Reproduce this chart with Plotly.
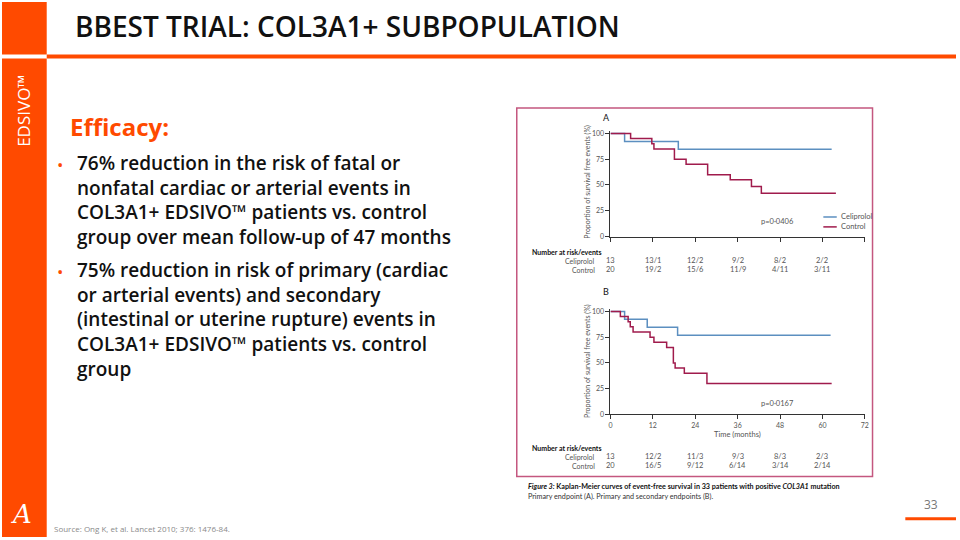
import plotly.graph_objects as go

# ---------------- data ----------------
months_A_celiprolol = [0, 4.0, 19.2, 62.6]
surv_A_celiprolol = [100, 92.3, 84.6, 84.6]
months_A_control = [0, 5.7, 11.7, 12.3, 18.1, 21.4, 27.5, 33.9, 39.9, 42.7, 63.8]
surv_A_control = [100, 95, 90, 85, 75, 70, 60, 55, 48.5, 42, 42]

months_B_celiprolol = [0, 4.0, 10.4, 19.0, 62.3]
surv_B_celiprolol = [100, 92.3, 84.6, 76.9, 76.9]
months_B_control = [0, 2.8, 5.0, 5.6, 6.4, 11.2, 12.3, 15.9, 17.8, 18.3, 20.9, 27.3, 62.6]
surv_B_control = [100, 95, 90, 85, 80, 75, 70, 65, 50, 45, 40, 30, 30]

risk_months = [0, 12, 24, 36, 48, 60]
risk_A_celiprolol = ["13", "13/1", "12/2", "9/2", "8/2", "2/2"]
risk_A_control = ["20", "19/2", "15/6", "11/9", "4/11", "3/11"]
risk_B_celiprolol = ["13", "12/2", "11/3", "9/3", "8/3", "2/3"]
risk_B_control = ["20", "16/5", "9/12", "6/14", "3/14", "2/14"]

x_ticks = [0, 12, 24, 36, 48, 60, 72]
y_ticks = [0, 25, 50, 75, 100]

title_text = "BBEST TRIAL: COL3A1+ SUBPOPULATION"
bullet1 = ["76% reduction in the risk of fatal or",
           "nonfatal cardiac or arterial events in",
           "COL3A1+ EDSIVO™ patients vs. control",
           "group over mean follow-up of 47 months"]
bullet2 = ["75% reduction in risk of primary (cardiac",
           "or arterial events) and secondary",
           "(intestinal or uterine rupture) events in",
           "COL3A1+ EDSIVO™ patients vs. control",
           "group"]

# ---------------- style ----------------
W, H = 960, 540
ORANGE = "#FF4A00"
BLUE = "#5C8FC0"
RED = "#A01B4C"
AXC = "#333333"
GRAY = "#555555"
SLIDE_FONT = "Open Sans"
CH_FONT = "Lato"


def px(x):
    return x / W


def py(y):
    return 1 - y / H


fig = go.Figure()

# curves
for xa, ya, mc, sc, mr, sr in [
    ("x", "y", months_A_celiprolol, surv_A_celiprolol, months_A_control, surv_A_control),
    ("x2", "y2", months_B_celiprolol, surv_B_celiprolol, months_B_control, surv_B_control),
]:
    fig.add_trace(go.Scatter(x=mc, y=sc, mode="lines", line=dict(color=BLUE, width=1.5, shape="hv"),
                             xaxis=xa, yaxis=ya, showlegend=False, hoverinfo="skip"))
    fig.add_trace(go.Scatter(x=mr, y=sr, mode="lines", line=dict(color=RED, width=1.5, shape="hv"),
                             xaxis=xa, yaxis=ya, showlegend=False, hoverinfo="skip"))

x0p, x1p = 612.3, 868.3
axis_common = dict(showgrid=False, zeroline=False, showline=True, linecolor=AXC, linewidth=1,
                   ticks="outside", ticklen=4, tickcolor=AXC, tickwidth=1,
                   tickfont=dict(family=CH_FONT, size=7, color=GRAY))

fig.update_layout(
    xaxis=dict(domain=[px(x0p), px(x1p)], range=[0, 72], tickvals=x_ticks, showticklabels=False,
               anchor="y", **axis_common),
    yaxis=dict(domain=[py(236.7), py(130.6)], range=[0, 102], tickvals=y_ticks, anchor="x",
               **axis_common),
    xaxis2=dict(domain=[px(x0p), px(x1p)], range=[0, 72], tickvals=x_ticks, anchor="y2",
                **axis_common),
    yaxis2=dict(domain=[py(416.3), py(310.2)], range=[0, 102], tickvals=y_ticks, anchor="x2",
                **axis_common),
)

shapes = []
ann = []

# slide decorations
shapes.append(dict(type="rect", xref="paper", yref="paper", x0=0, x1=px(45), y0=py(53), y1=1,
                   fillcolor=ORANGE, line_width=0, layer="below"))
shapes.append(dict(type="rect", xref="paper", yref="paper", x0=0, x1=px(45), y0=0, y1=py(57),
                   fillcolor=ORANGE, line_width=0, layer="below"))
shapes.append(dict(type="rect", xref="paper", yref="paper", x0=px(45), x1=1, y0=py(57), y1=py(53),
                   fillcolor=ORANGE, line_width=0, layer="below"))
shapes.append(dict(type="rect", xref="paper", yref="paper", x0=px(909), x1=1, y0=py(523), y1=py(520),
                   fillcolor=ORANGE, line_width=0, layer="below"))
# chart frame
shapes.append(dict(type="rect", xref="paper", yref="paper", x0=px(518), x1=px(876), y0=py(479), y1=py(107),
                   line=dict(color="#C4577F", width=1.5), layer="below"))

ann.append(dict(text=title_text, x=px(71), y=py(24), xanchor="left", yanchor="middle",
                font=dict(family=SLIDE_FONT, size=28, color="#111111", weight=600)))
ann.append(dict(text="EDSIVO™", x=px(22), y=py(110), xanchor="center", yanchor="middle", textangle=-90,
                font=dict(family=SLIDE_FONT, size=17, color="white")))
ann.append(dict(text="Efficacy:", x=px(66), y=py(126), xanchor="left", yanchor="middle",
                font=dict(family=SLIDE_FONT, size=24, color=ORANGE, weight=700)))

BSIZE = 19
LH = BSIZE * 1.3


def add_bullet(lines, y_first):
    ann.append(dict(text="•", x=px(53), y=py(y_first), xanchor="left", yanchor="middle",
                    font=dict(family=SLIDE_FONT, size=17, color=ORANGE)))
    ann.append(dict(text="<br>".join(lines), x=px(73), y=py(y_first - LH / 2 - 4), xanchor="left",
                    yanchor="top", align="left",
                    font=dict(family=SLIDE_FONT, size=BSIZE, color="#111111", weight=600)))


add_bullet(bullet1, 164)
add_bullet(bullet2, 272)

ann.append(dict(text="Source: Ong K, et al. Lancet 2010; 376: 1476-84.", x=px(50), y=py(531),
                xanchor="left", yanchor="middle", font=dict(family=SLIDE_FONT, size=8, color="#8A8A8A")))
ann.append(dict(text="33", x=px(944), y=py(507), xanchor="right", yanchor="middle",
                font=dict(family=SLIDE_FONT, size=12, color="#777777")))
ann.append(dict(text="<i>A</i>", x=px(20), y=py(517), xanchor="center", yanchor="middle",
                font=dict(family="DejaVu Serif", size=26, color="white")))

# chart annotations
CH = dict(family=CH_FONT, color=GRAY)
ann.append(dict(text="A", x=px(603), y=py(117), xanchor="left", yanchor="middle",
                font=dict(family=CH_FONT, size=9, color="#111111")))
ann.append(dict(text="B", x=px(603), y=py(292), xanchor="left", yanchor="middle",
                font=dict(family=CH_FONT, size=9, color="#111111")))
for yc in [181, 362]:
    ann.append(dict(text="Proportion of survival free events (%)", x=px(589), y=py(yc), textangle=-90,
                    xanchor="center", yanchor="middle", font=dict(size=7, **CH)))
ann.append(dict(text="Time (months)", x=px(740), y=py(437), xanchor="center", yanchor="middle",
                font=dict(size=7.5, **CH)))
ann.append(dict(text="p=0·0406", x=px(780), y=py(222), xanchor="center", yanchor="middle",
                font=dict(size=7.5, **CH)))
ann.append(dict(text="p=0·0167", x=px(780), y=py(405), xanchor="center", yanchor="middle",
                font=dict(size=7.5, **CH)))

# legend (panel A)
for yl, col, lab in [(217, BLUE, "Celiprolol"), (227, RED, "Control")]:
    shapes.append(dict(type="line", xref="paper", yref="paper", x0=px(826.5), x1=px(840), y0=py(yl), y1=py(yl),
                       line=dict(color=col, width=1.5)))
    ann.append(dict(text=lab, x=px(842), y=py(yl), xanchor="left", yanchor="middle",
                    font=dict(size=7.5, **CH)))


# risk tables
def risk_table(xref, y_head, cel, ctl):
    ann.append(dict(text="<b>Number at risk/events</b>", x=px(531), y=py(y_head), xanchor="left",
                    yanchor="middle", font=dict(family=CH_FONT, size=7, color="#111111")))
    for dy, lab, vals in [(9, "Celiprolol", cel), (18, "Control", ctl)]:
        ann.append(dict(text=lab, x=px(599), y=py(y_head + dy), xanchor="right", yanchor="middle",
                        font=dict(size=7, **CH)))
        for m, v in zip(risk_months, vals):
            ann.append(dict(text=v, x=m, xref=xref, y=py(y_head + dy), xanchor="center", yanchor="middle",
                            font=dict(size=7.5, **CH)))


risk_table("x", 252, risk_A_celiprolol, risk_A_control)
risk_table("x2", 450, risk_B_celiprolol, risk_B_control)

ann.append(dict(text="<b><i>Figure 3:</i> Kaplan-Meier curves of event-free survival in 33 patients with positive <i>COL3A1</i> mutation</b>",
                x=px(527), y=py(489), xanchor="left", yanchor="middle", font=dict(family=CH_FONT, size=7.2, color="#111111")))
ann.append(dict(text="Primary endpoint (A). Primary and secondary endpoints (B).",
                x=px(527), y=py(499), xanchor="left", yanchor="middle", font=dict(family=CH_FONT, size=7.2, color="#333333")))

for a in ann:
    a.setdefault("xref", "paper")
    a.setdefault("yref", "paper")
    a["showarrow"] = False

fig.update_layout(width=W, height=H, margin=dict(l=0, r=0, t=0, b=0), paper_bgcolor="white",
                  plot_bgcolor="rgba(0,0,0,0)", shapes=shapes, annotations=ann, showlegend=False)

fig.write_html("out.html", config={"displayModeBar": False})
